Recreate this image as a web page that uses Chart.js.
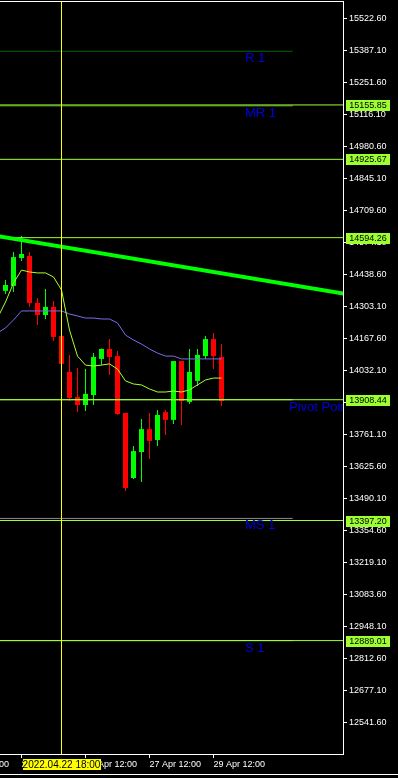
<!DOCTYPE html>
<html>
<head>
<meta charset="utf-8">
<title>GER40 H6</title>
<script src="https://cdn.jsdelivr.net/npm/chart.js@4.4.1/dist/chart.umd.min.js"></script>
<style>
  html, body { margin: 0; padding: 0; background: #000; }
  canvas { display: block; }
</style>
</head>
<body>
<canvas id="chart" width="398" height="778"></canvas>
<script>
// 6h candles, oldest first (bar index 0..27)
const opens  = [14369, 14390, 14508, 14517, 14318, 14267, 14301, 14178, 14026, 13920, 13886, 13928, 14081, 14123,
                14093, 13852, 13577, 13687, 13784, 13738, 13856, 13823, 14072, 13899, 13988, 14093, 14165, 14089];
const highs  = [14415, 14534, 14601, 14534, 14339, 14377, 14326, 14182, 14098, 14043, 14038, 14106, 14125, 14165,
                14115, 13852, 13712, 13827, 13852, 13865, 13865, 14072, 14072, 14123, 14123, 14178, 14191, 14144];
const lows   = [14356, 14364, 14495, 14301, 14225, 14250, 14157, 14055, 13903, 13856, 13861, 13886, 14055, 14013,
                13844, 13522, 13573, 13560, 13657, 13712, 13759, 13806, 13801, 13890, 13966, 14081, 14038, 13882];
const closes = [14394, 14512, 14525, 14318, 14267, 14301, 14174, 14060, 13916, 13886, 13933, 14089, 14123, 14089,
                13848, 13535, 13691, 13784, 13734, 13844, 13823, 14072, 13903, 14026, 14098, 14165, 14093, 13903];

// moving averages, bar index -1..27 (first value is the bar just off the left edge)
const maFast = [14254, 14322, 14402, 14457, 14449, 14445, 14445, 14428, 14373, 14203, 14093, 14055, 14051, 14055, 14060,
                14038, 13988, 13975, 13971, 13954, 13941, 13941, 13945, 13941, 13950, 13971, 13992, 14000, 14000];
const maSlow = [14191, 14212, 14246, 14284, 14284, 14284, 14284, 14284, 14284, 14271, 14263, 14254, 14254, 14250, 14250,
                14233, 14182, 14161, 14144, 14123, 14106, 14093, 14093, 14081, 14081, 14081, 14081, 14081, 14081];

// horizontal price lines with tags on the axis
const levelPrices = [15155.85, 14925.67, 14594.26, 13908.44, 13397.20, 12889.01];

// pivot indicator
const pivotNames  = ["R 1", "MR 1", "Pivot Point", "MS 1", "S 1"];
const pivotPrices = [15383, 15152, 13908.44, 13406, 12889];

// trend line
const trendIdx    = [-1, 43];
const trendPrices = [14600.7, 14353.4];

// axis ticks
const priceTicks = [12541.60, 12677.10, 12812.60, 12948.10, 13083.60, 13219.10, 13354.60, 13490.10, 13625.60,
                    13761.10, 13896.60, 14032.10, 14167.60, 14303.10, 14438.60, 14574.10, 14709.60, 14845.10,
                    14980.60, 15116.10, 15251.60, 15387.10, 15522.60];
const timeTickIdx    = [-6, 2, 10, 18, 26];
const timeTickLabels = ["19 Apr 12:00", "21 Apr 12:00", "25 Apr 12:00", "27 Apr 12:00", "29 Apr 12:00"];

// crosshair
const crossIdx = 7;
const crossLabel = "2022.04.22 18:00";

// ---- style ----
const UP = "#00ff00";
const DOWN = "#ff0000";
const LEVEL = "#9dff2f";
const FONT = '"Liberation Sans", Arial, sans-serif';
const X_MIN = -0.6875, X_MAX = 42.1875;
const Y_MIN = 12409.07, Y_MAX = 15595.77;
const PIVOT_END = 35.9;
const pivotColors = ["#006400", "#5f9e2f", "#9dff2f", "#8c8c8c", "#9dff2f"];
const pivotLabelIdx = [29.9, 29.9, 35.4, 29.9, 29.9];

const idx = opens.map((_, i) => i);
const isUp = (i) => closes[i] >= opens[i];
const candleColor = (ctx) => (isUp(ctx.dataIndex) ? UP : DOWN);

const flatLine = (price, x0, x1) => [{ x: x0, y: price }, { x: x1, y: price }];
const lineDs = (data, color, width, order) => ({
  type: "line",
  data,
  borderColor: color,
  borderWidth: width,
  pointRadius: 0,
  tension: 0,
  clip: 0,
  order,
});

const datasets = [];
// candle wicks and bodies
datasets.push({
  type: "bar",
  data: idx.map((i) => ({ x: i, y: [lows[i], highs[i]] })),
  backgroundColor: candleColor,
  barThickness: 1,
  grouped: false,
  inflateAmount: 0,
  order: 20,
});
datasets.push({
  type: "bar",
  data: idx.map((i) => ({ x: i, y: [opens[i], closes[i]] })),
  backgroundColor: candleColor,
  barThickness: 5,
  grouped: false,
  inflateAmount: 0,
  order: 19,
});
// moving averages
datasets.push(lineDs(maSlow.map((v, k) => ({ x: k - 1, y: v })), "#7b6cf0", 1, 10));
datasets.push(lineDs(maFast.map((v, k) => ({ x: k - 1, y: v })), "#adff2f", 1, 9));
// pivot indicator lines
pivotPrices.forEach((p, k) => {
  datasets.push(lineDs(flatLine(p, X_MIN, PIVOT_END), pivotColors[k], 1, 8));
});
// price level lines
levelPrices.forEach((p) => {
  datasets.push(lineDs(flatLine(p, X_MIN, X_MAX), LEVEL, 1, 5));
});
// trend line
datasets.push(lineDs(trendIdx.map((x, k) => ({ x, y: trendPrices[k] })), "#00ff00", 4, 1));

const overlay = {
  id: "overlay",
  afterDatasetsDraw(chart) {
    const { ctx, chartArea: a, scales } = chart;
    const x = scales.x, y = scales.y;
    ctx.save();
    ctx.beginPath();
    ctx.rect(a.left, a.top, a.right - a.left, a.bottom - a.top);
    ctx.clip();
    // pivot labels
    ctx.fillStyle = "#0000e0";
    ctx.font = "13px " + FONT;
    ctx.textBaseline = "top";
    ctx.textAlign = "left";
    pivotNames.forEach((name, k) => {
      const px = Math.round(x.getPixelForValue(pivotLabelIdx[k]));
      const py = Math.round(y.getPixelForValue(pivotPrices[k]));
      ctx.fillText(name, px, py + 1);
    });
    // crosshair
    const cx = Math.floor(x.getPixelForValue(crossIdx));
    ctx.fillStyle = "#ffff00";
    ctx.fillRect(cx, a.top, 1, a.bottom - a.top);
    ctx.restore();
  },
  afterDraw(chart) {
    const { ctx, chartArea: a, scales } = chart;
    const x = scales.x, y = scales.y;
    ctx.save();
    // top frame line and window border
    ctx.fillStyle = "#ffffff";
    ctx.fillRect(a.left, a.top, a.right - a.left + 1, 1);
    ctx.fillRect(0, 774, chart.width, 1);
    // price tags
    ctx.font = "9px " + FONT;
    ctx.textAlign = "center";
    ctx.textBaseline = "middle";
    levelPrices.forEach((p) => {
      const py = Math.round(y.getPixelForValue(p));
      ctx.fillStyle = LEVEL;
      ctx.fillRect(a.right + 3, py - 5, 44, 11);
      ctx.fillStyle = "#000";
      ctx.fillText(p.toFixed(2), a.right + 25, py + 0.5);
    });
    // date label of the crosshair
    const cx = Math.floor(x.getPixelForValue(crossIdx)) + 0.5;
    ctx.fillStyle = "#ffff00";
    ctx.fillRect(Math.round(cx - 39), a.bottom + 5, 78, 11);
    ctx.fillStyle = "#000";
    ctx.font = "10px " + FONT;
    ctx.fillText(crossLabel, cx, a.bottom + 11);
    ctx.restore();
  },
};

const noPadding = (s) => {
  s.paddingLeft = 0;
  s.paddingRight = 0;
  s.paddingTop = 0;
  s.paddingBottom = 0;
};

new Chart(document.getElementById("chart"), {
  type: "bar",
  data: { datasets },
  options: {
    responsive: false,
    animation: false,
    devicePixelRatio: 1,
    layout: { padding: { top: 1, left: 0, right: 0, bottom: 0 } },
    plugins: { legend: { display: false }, tooltip: { enabled: false } },
    scales: {
      x: {
        type: "linear",
        min: X_MIN,
        max: X_MAX,
        offset: false,
        bounds: "data",
        grid: { drawOnChartArea: false, offset: false, color: "#ffffff", tickLength: 4 },
        border: { color: "#ffffff", width: 1 },
        ticks: {
          color: "#ffffff",
          font: { family: FONT, size: 9 },
          align: "start",
          padding: 1,
          autoSkip: false,
          maxRotation: 0,
          callback: (v) => timeTickLabels[timeTickIdx.indexOf(v)] || "",
        },
        afterBuildTicks: (s) => { s.ticks = timeTickIdx.map((v) => ({ value: v })); },
        afterFit: (s) => { s.height = 24; noPadding(s); },
      },
      y: {
        type: "linear",
        position: "right",
        min: Y_MIN,
        max: Y_MAX,
        bounds: "data",
        grid: { drawOnChartArea: false, color: "#ffffff", tickLength: 4 },
        border: { color: "#ffffff", width: 1 },
        ticks: {
          color: "#ffffff",
          font: { family: FONT, size: 9 },
          padding: 2,
          autoSkip: false,
          callback: (v) => Number(v).toFixed(2),
        },
        afterBuildTicks: (s) => { s.ticks = priceTicks.map((v) => ({ value: v })); },
        afterFit: (s) => { s.width = 55; noPadding(s); },
      },
    },
  },
  plugins: [overlay],
});
</script>
</body>
</html>
